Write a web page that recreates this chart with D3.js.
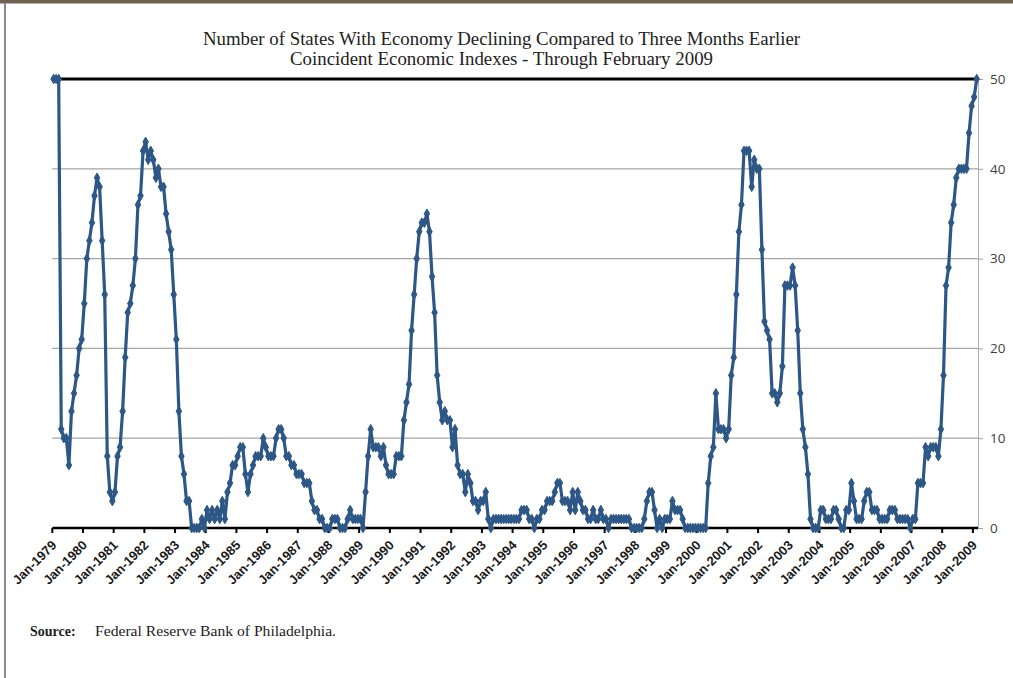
<!DOCTYPE html>
<html>
<head>
<meta charset="utf-8">
<script src="https://cdn.jsdelivr.net/npm/d3@7"></script>
<style>
  body { margin: 0; background: #fff; }
  svg { display: block; }
</style>
</head>
<body>
<div id="chart"></div>
<script>
// monthly values, Jan-1979 .. Feb-2009 (one row per year)
var states = [
  50, 50, 50, 11, 10, 10, 7, 13, 15, 17, 20, 21,   // 1979
  25, 30, 32, 34, 37, 39, 38, 32, 26, 8, 4, 3,     // 1980
  4, 8, 9, 13, 19, 24, 25, 27, 30, 36, 37, 42,     // 1981
  43, 41, 42, 41, 39, 40, 38, 38, 35, 33, 31, 26,  // 1982
  21, 13, 8, 6, 3, 3, 0, 0, 0, 0, 1, 0,            // 1983
  2, 1, 2, 1, 2, 1, 3, 1, 4, 5, 7, 7,              // 1984
  8, 9, 9, 6, 4, 6, 7, 8, 8, 8, 10, 9,             // 1985
  8, 8, 8, 10, 11, 11, 10, 8, 8, 7, 7, 6,          // 1986
  6, 6, 5, 5, 5, 3, 2, 2, 1, 1, 0, 0,              // 1987
  0, 1, 1, 1, 0, 0, 0, 1, 2, 1, 1, 1,              // 1988
  1, 0, 4, 8, 11, 9, 9, 9, 8, 9, 7, 6,             // 1989
  6, 6, 8, 8, 8, 12, 14, 16, 22, 26, 30, 33,       // 1990
  34, 34, 35, 33, 28, 24, 17, 14, 12, 13, 12, 12,  // 1991
  9, 11, 7, 6, 6, 4, 6, 5, 3, 3, 2, 3,             // 1992
  3, 4, 1, 0, 1, 1, 1, 1, 1, 1, 1, 1,              // 1993
  1, 1, 1, 2, 2, 2, 1, 1, 0, 1, 1, 2,              // 1994
  2, 3, 3, 3, 4, 5, 5, 3, 3, 3, 2, 4,              // 1995
  2, 4, 3, 2, 2, 1, 1, 2, 1, 1, 2, 1,              // 1996
  1, 0, 1, 1, 1, 1, 1, 1, 1, 1, 0, 0,              // 1997
  0, 0, 0, 1, 3, 4, 4, 2, 0, 1, 0, 1,              // 1998
  1, 1, 3, 2, 2, 2, 1, 0, 0, 0, 0, 0,              // 1999
  0, 0, 0, 0, 5, 8, 9, 15, 11, 11, 11, 10,         // 2000
  11, 17, 19, 26, 33, 36, 42, 42, 42, 38, 41, 40,  // 2001
  40, 31, 23, 22, 21, 15, 15, 14, 15, 18, 27, 27,  // 2002
  27, 29, 27, 22, 15, 11, 9, 6, 1, 0, 0, 0,        // 2003
  2, 2, 1, 1, 1, 2, 2, 1, 0, 0, 2, 2,              // 2004
  5, 3, 1, 1, 1, 3, 4, 4, 2, 2, 2, 1,              // 2005
  1, 1, 1, 2, 2, 2, 1, 1, 1, 1, 1, 0,              // 2006
  1, 1, 5, 5, 5, 9, 8, 9, 9, 9, 8, 11,             // 2007
  17, 27, 29, 34, 36, 39, 40, 40, 40, 40, 44, 47,  // 2008
  48, 50                                           // 2009
];
var startYear = 1979;
var years = d3.range(1979, 2010);
var yearLabels = years.map(function(y) { return "Jan-" + y; });
var yTicks = [0, 10, 20, 30, 40, 50];

var W = 1013, H = 678;
var plotLeft = 52.3, plotRight = 978, plotTop = 79, plotBottom = 528;

var svg = d3.select("#chart").append("svg")
    .attr("width", W)
    .attr("height", H);

// frame bits
svg.append("rect").attr("x", 0).attr("y", 0).attr("width", W).attr("height", 3.5)
    .attr("fill", "#6f6350");
svg.append("rect").attr("x", 4).attr("y", 3).attr("width", 2).attr("height", H)
    .attr("fill", "#8a8a8a");

var x = d3.scaleLinear()
    .domain([0, states.length])
    .range([plotLeft, plotRight]);
var y = d3.scaleLinear()
    .domain([0, 50])
    .range([plotBottom, plotTop]);

// title
svg.append("text")
    .attr("x", 501.5).attr("y", 45)
    .attr("text-anchor", "middle")
    .attr("textLength", 597)
    .attr("lengthAdjust", "spacingAndGlyphs")
    .style("font-family", "'Liberation Serif', 'Times New Roman', serif")
    .style("font-size", "18px")
    .style("fill", "#222")
    .text("Number of States With Economy Declining Compared to Three Months Earlier");
svg.append("text")
    .attr("x", 501.5).attr("y", 65)
    .attr("text-anchor", "middle")
    .attr("textLength", 423)
    .attr("lengthAdjust", "spacingAndGlyphs")
    .style("font-family", "'Liberation Serif', 'Times New Roman', serif")
    .style("font-size", "18px")
    .style("fill", "#222")
    .text("Coincident Economic Indexes - Through February 2009");

// gridlines
svg.selectAll(".grid")
    .data([10, 20, 30, 40])
  .enter().append("line")
    .attr("class", "grid")
    .attr("x1", plotLeft).attr("x2", plotRight)
    .attr("y1", function(d) { return y(d); })
    .attr("y2", function(d) { return y(d); })
    .style("stroke", "#a6a6a6")
    .style("stroke-width", 1.2);

// right value axis
var yAxis = svg.append("g")
    .attr("transform", "translate(" + plotRight + ",0)")
    .call(d3.axisRight(y).tickValues(yTicks).tickSize(5).tickPadding(7));
yAxis.select(".domain").style("stroke", "#b0b0b0");
yAxis.selectAll(".tick line").style("stroke", "#a0a0a0");
yAxis.selectAll("text")
    .style("font-family", "'Open Sans', 'Liberation Sans', sans-serif")
    .style("font-size", "13.5px")
    .style("fill", "#404040");

// top line at 50
svg.append("line")
    .attr("x1", plotLeft).attr("x2", plotRight)
    .attr("y1", y(50)).attr("y2", y(50))
    .style("stroke", "#000")
    .style("stroke-width", 3);

// category axis
svg.append("line")
    .attr("x1", plotLeft).attr("x2", plotRight)
    .attr("y1", y(0)).attr("y2", y(0))
    .style("stroke", "#000")
    .style("stroke-width", 2.5);
svg.selectAll(".xtick")
    .data(years)
  .enter().append("line")
    .attr("class", "xtick")
    .attr("x1", function(d) { return x((d - startYear) * 12); })
    .attr("x2", function(d) { return x((d - startYear) * 12); })
    .attr("y1", y(0)).attr("y2", y(0) + 5)
    .style("stroke", "#000")
    .style("stroke-width", 2);

svg.selectAll(".xlab")
    .data(yearLabels)
  .enter().append("text")
    .attr("class", "xlab")
    .attr("transform", function(d, i) {
      return "translate(" + (x(i * 12) + 5) + "," + (y(0) + 18) + ") rotate(-45)";
    })
    .attr("text-anchor", "end")
    .style("font-family", "'Liberation Sans', Arial, sans-serif")
    .style("font-weight", "bold")
    .style("font-size", "13px")
    .style("fill", "#1a1a1a")
    .text(function(d) { return d; });

// series
var line = d3.line()
    .x(function(d, i) { return x(i + 0.5); })
    .y(function(d) { return y(d); });

svg.append("path")
    .datum(states)
    .attr("d", line)
    .style("fill", "none")
    .style("stroke", "#2c5786")
    .style("stroke-width", 3.2)
    .style("stroke-linejoin", "round");

var diamond = d3.symbol().type(d3.symbolDiamond).size(26);
svg.selectAll(".dot")
    .data(states)
  .enter().append("path")
    .attr("class", "dot")
    .attr("d", diamond)
    .attr("transform", function(d, i) { return "translate(" + x(i + 0.5) + "," + y(d) + ")"; })
    .style("fill", "#2c5786")
    .style("stroke", "#2c5786")
    .style("stroke-width", 1);

// source note
var src = svg.append("text")
    .attr("x", 30).attr("y", 636)
    .style("font-family", "'Liberation Serif', 'Times New Roman', serif")
    .style("font-size", "14px")
    .style("fill", "#222");
src.append("tspan").style("font-weight", "bold").text("Source:");
src.append("tspan").attr("x", 95).attr("textLength", 241).attr("lengthAdjust", "spacingAndGlyphs")
    .text("Federal Reserve Bank of Philadelphia.");
</script>
</body>
</html>
